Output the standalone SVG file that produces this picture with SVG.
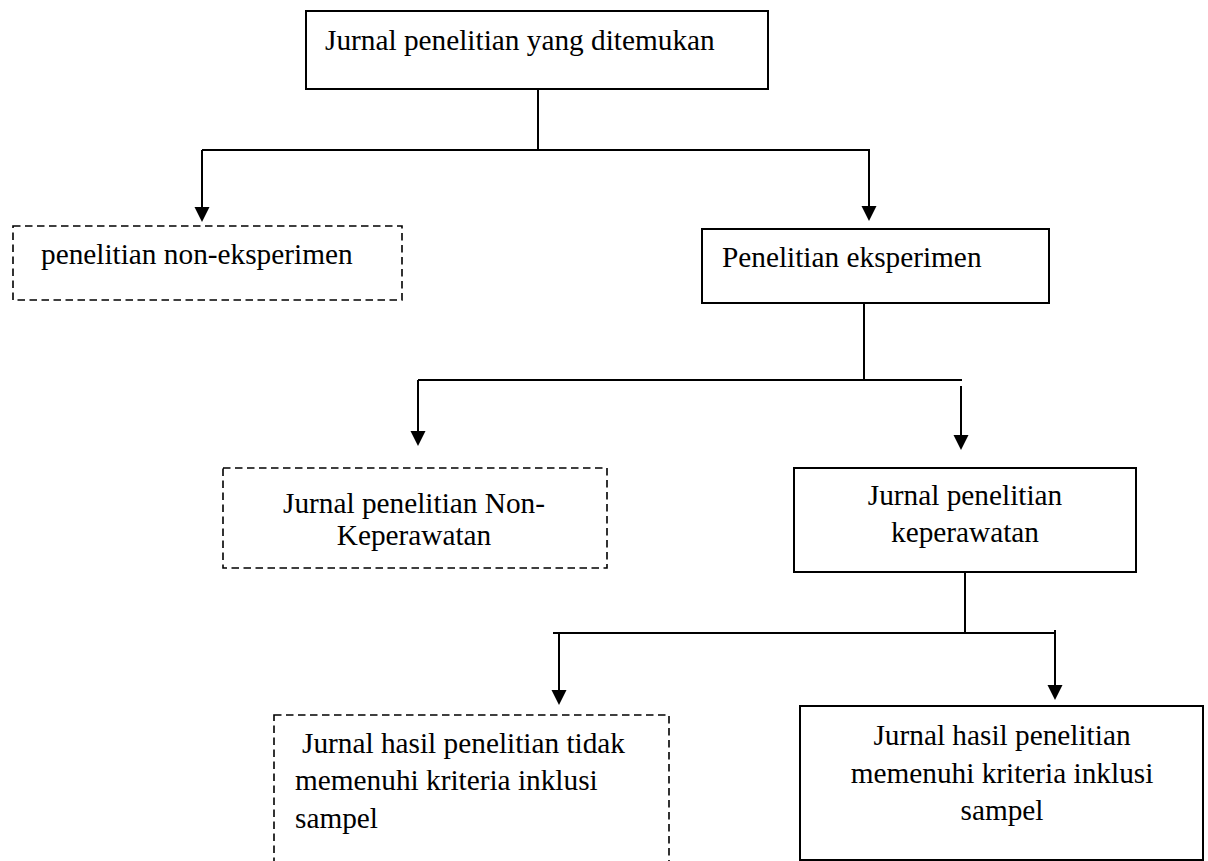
<svg xmlns="http://www.w3.org/2000/svg" width="1208" height="861" viewBox="0 0 1208 861">
<style>
  .box{fill:#fff;stroke:#000;stroke-width:2}
  .dash{fill:#fff;stroke:#000;stroke-width:1.6;stroke-dasharray:7.5 4.5}
  .t{font-family:"Liberation Serif","Times New Roman",serif;font-size:29.3px;fill:#000}
  .c{text-anchor:middle}
  .ln{stroke:#000;stroke-width:2;fill:none}
  .ar{stroke:#000;stroke-width:2;fill:none;marker-end:url(#arr)}
</style>
<defs>
  <marker id="arr" markerUnits="userSpaceOnUse" markerWidth="16" markerHeight="16" refX="1" refY="7.5" orient="auto">
    <path d="M0,0 L15,7.5 L0,15 z" fill="#000"/>
  </marker>
</defs>
<rect width="1208" height="861" fill="#fff"/>
<g id="connectors">
  <line class="ln" x1="538" y1="89" x2="538" y2="150"/>
  <line class="ln" x1="202" y1="150" x2="870" y2="150"/>
  <line class="ar" x1="202" y1="150" x2="202" y2="208"/>
  <line class="ar" x1="869" y1="150" x2="869" y2="207"/>
  <line class="ln" x1="864" y1="303" x2="864" y2="380"/>
  <line class="ln" x1="418" y1="380" x2="962" y2="380"/>
  <line class="ar" x1="418" y1="380" x2="418" y2="432"/>
  <line class="ar" x1="961" y1="386" x2="961" y2="436"/>
  <line class="ln" x1="965" y1="572" x2="965" y2="633"/>
  <line class="ln" x1="553" y1="633" x2="1056" y2="633"/>
  <line class="ar" x1="559" y1="633" x2="559" y2="691"/>
  <line class="ar" x1="1055" y1="630" x2="1055" y2="686"/>
</g>
<g id="n1">
  <rect class="box" x="306" y="11" width="462" height="78"/>
  <text class="t" x="325" y="50">Jurnal penelitian yang ditemukan</text>
</g>
<g id="n2">
  <rect class="dash" x="13" y="226" width="389" height="74"/>
  <text class="t" x="41" y="264">penelitian non-eksperimen</text>
</g>
<g id="n3">
  <rect class="box" x="702" y="229" width="347" height="74"/>
  <text class="t" x="722" y="267">Penelitian eksperimen</text>
</g>
<g id="n4">
  <rect class="dash" x="223" y="468" width="384" height="100"/>
  <text class="t c" x="414" y="513">Jurnal penelitian Non-</text>
  <text class="t c" x="414" y="545">Keperawatan</text>
</g>
<g id="n5">
  <rect class="box" x="794" y="468" width="342" height="104"/>
  <text class="t c" x="965" y="505">Jurnal penelitian</text>
  <text class="t c" x="965" y="542">keperawatan</text>
</g>
<g id="n6">
  <rect class="dash" x="274" y="715" width="395" height="160"/>
  <text class="t" x="302" y="753">Jurnal hasil penelitian tidak</text>
  <text class="t" x="295" y="790">memenuhi kriteria inklusi</text>
  <text class="t" x="295" y="828">sampel</text>
</g>
<g id="n7">
  <rect class="box" x="800" y="706" width="403" height="154"/>
  <text class="t c" x="1002" y="745">Jurnal hasil penelitian</text>
  <text class="t c" x="1002" y="783">memenuhi kriteria inklusi</text>
  <text class="t c" x="1002" y="820">sampel</text>
</g>
</svg>
